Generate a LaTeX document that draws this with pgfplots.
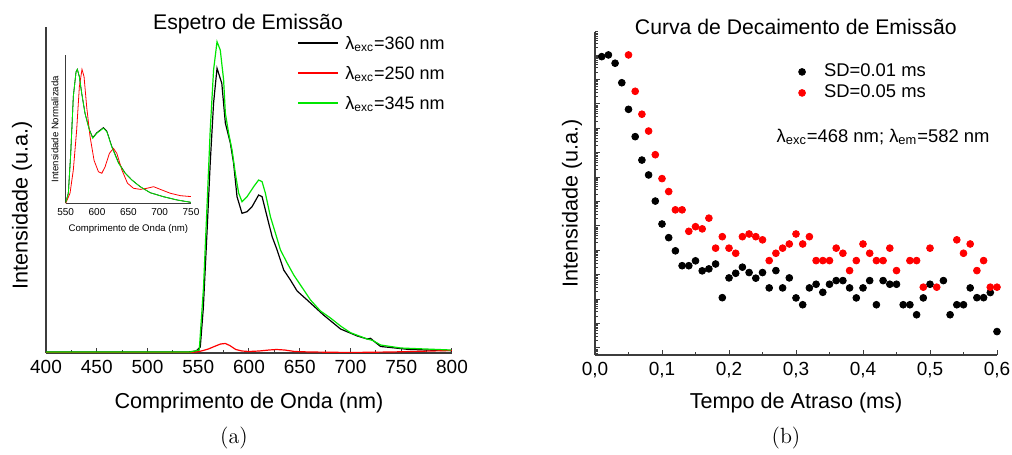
\documentclass[border=0pt]{standalone}
\usepackage{fontspec}
\usepackage{pgfplots}
\pgfplotsset{compat=1.18}
\newfontfamily\arial{Liberation Sans}
\definecolor{lgreen}{RGB}{0,230,0}
\definecolor{axgray}{RGB}{60,60,60}

% log-like minor ticks for the decay axis
\def\minorlist{-1}
\foreach \n in {-1,...,12}{\foreach \k in {0.301,0.477,0.602,0.699,0.778,0.845,0.903,0.954}{\pgfmathsetmacro\v{\n+\k}\xdef\minorlist{\minorlist,\v}}}

\pgfplotsset{
  base/.style={
    scale only axis, anchor=south west,
    axis x line*=bottom, axis y line*=left,
    axis line style={-, line width=0.6pt, axgray},
    tick align=inside, tick style={line width=0.5pt, axgray},
    major tick length=2.5pt, minor tick length=1.5pt,
    /pgf/number format/assume math mode=true,
    ticklabel style={font=\arial\fontsize{9.5}{11}\selectfont},
    label style={font=\arial\fontsize{10.8}{12}\selectfont},
  },
}

\begin{document}
\begin{tikzpicture}
\useasboundingbox (0,0) rectangle (506pt,227.5pt);

% ---------------- (a) emission spectra
\begin{axis}[base, at={(23pt,51pt)}, width=203pt, height=163pt,
  xmin=400, xmax=800, ymin=0, ymax=326,
  xtick={400,450,...,800}, minor xtick={425,475,...,775}, ytick=\empty,
  xlabel={Comprimento de Onda (nm)}, ylabel={Intensidade (u.a.)},
  xlabel style={at={(axis description cs:0.5,-0.153)}, anchor=center},
  ylabel style={at={(axis description cs:-0.059,0.454)}, anchor=center},
  every axis plot/.append style={line width=0.6pt},
]
\addplot[black] coordinates {
(400,1)(540,1)(548,2)(552,6)(555,45)(558.6,120)(561.8,190)(565.1,250)(568.5,284.7)
(573.2,269.7)(576.7,230)(581.6,210)(584.8,190)(588.2,156.3)(593.1,139.7)(598.1,141.3)
(603,146.3)(609.5,158)(612.9,156.3)(617.8,136.3)(622.8,116.3)(627.7,103)(634.2,83)
(640.8,73)(647.4,62)(657.3,53)(673.4,38)(690.2,24)(706.7,17)(716.5,14)(719.8,14.7)
(722.8,12)(729.7,6.5)(739.5,5.5)(756,3.7)(780,2.8)(800,2.3)};
\addplot[red] coordinates {
(400,0.5)(540,0.5)(548,1)(553,2)(560,4)(567,7)(572,9)(576.7,9.5)(581,7.5)(587,3.5)
(593,2)(600,1.5)(610,2)(620,3)(627,3.5)(635,3)(645,1.5)(660,1)(700,0.5)(740,1)
(760,1.5)(780,2)(800,2.5)};
\addplot[lgreen] coordinates {
(400,1)(542,1)(551,3)(555.2,66)(558.6,146)(561.8,223)(565.1,283)(568.5,311.3)
(571.7,303)(575,273)(576.7,240)(579.9,220)(583.3,203)(586.5,180)(589.8,160)
(593.1,151.3)(598.1,156.3)(604.6,166.3)(609.5,173)(612.9,171.3)(616.1,160)
(621.1,136.3)(626,120)(631,103)(637.6,90)(644.1,78)(650.7,68)(660.6,53)(670.4,42)
(680.3,35)(690.2,27)(700,20.3)(716.5,14)(722,12.5)(729.7,8)(749.4,5)(798.8,3)};
% legend keys
\draw[black, line width=0.6pt] (axis description cs:0.6207,0.9509) -- (axis description cs:0.7192,0.9509);
\draw[red, line width=0.6pt] (axis description cs:0.6207,0.8589) -- (axis description cs:0.7192,0.8589);
\draw[lgreen, line width=0.6pt] (axis description cs:0.6207,0.7669) -- (axis description cs:0.7192,0.7669);
\begin{scope}[every node/.style={anchor=base west, inner sep=0pt, font=\arial\fontsize{9}{10}\selectfont}]
\node at (axis description cs:0.7365,0.931) {λ\textsubscript{exc}=360 nm};
\node at (axis description cs:0.7365,0.839) {λ\textsubscript{exc}=250 nm};
\node at (axis description cs:0.7365,0.747) {λ\textsubscript{exc}=345 nm};
\end{scope}
\end{axis}

% inset
\begin{axis}[base, at={(32.85pt,125.85pt)}, width=62.65pt, height=74.15pt,
  xmin=550, xmax=750, ymin=0, ymax=1.107,
  axis line style={-, line width=0.4pt, axgray},
  xtick={550,600,...,750}, ytick=\empty, major tick length=0pt, minor tick length=0pt,
  ticklabel style={font=\arial\fontsize{5}{6}\selectfont},
  xticklabel style={yshift=1pt},
  label style={font=\arial\fontsize{4.8}{5.5}\selectfont},
  xlabel={Comprimento de Onda (nm)}, ylabel={Intensidade Normalizada},
  xlabel style={at={(axis description cs:0.5,-0.175)}, anchor=center},
  ylabel style={at={(axis description cs:-0.085,0.5)}, anchor=center},
  every axis plot/.append style={line width=0.4pt},
]
\addplot[black] coordinates {
(550,0.005)(554.2,0.075)(558,0.37)(562.2,0.8)(566.5,0.98)(568.6,1.0)(571.8,0.945)
(575.6,0.82)(580.9,0.67)(587.8,0.55)(593.2,0.49)(599.6,0.527)(610.2,0.565)
(615.6,0.54)(623.6,0.425)(634.2,0.305)(644.9,0.226)(655.6,0.174)(668.9,0.124)
(684.9,0.079)(706.2,0.049)(727.6,0.025)(750,0.007)};
\addplot[red] coordinates {
(550,0)(556.9,0.075)(562.2,0.25)(567.5,0.547)(571.8,0.87)(576,1.0)(579.3,0.945)
(583.5,0.72)(588.8,0.5)(595.3,0.32)(602.2,0.236)(607.6,0.224)(612.9,0.273)
(619.8,0.373)(626.2,0.41)(631.6,0.373)(639.6,0.25)(648.6,0.15)(658.2,0.112)
(668.9,0.104)(679.6,0.112)(690.2,0.124)(701,0.104)(716.9,0.075)(733,0.057)(750,0.05)};
\addplot[lgreen] coordinates {
(550,0.005)(554.2,0.075)(558,0.37)(562.2,0.8)(566.5,0.98)(568.6,1.0)(571.8,0.945)
(575.6,0.82)(580.9,0.67)(587.8,0.547)(593.2,0.485)(599.6,0.522)(610.2,0.56)
(615.6,0.534)(623.6,0.42)(634.2,0.3)(644.9,0.224)(655.6,0.174)(668.9,0.124)
(684.9,0.079)(706.2,0.049)(727.6,0.025)(750,0.007)};
\end{axis}

% ---------------- (b) decay curve
\begin{axis}[base, at={(297.5pt,50pt)}, width=201pt, height=161.5pt,
  xmin=0, xmax=0.6, ymin=-0.29, ymax=12.95,
  xtick={0,0.1,...,0.6}, minor xtick={0.05,0.15,...,0.55},
  ytick={0,...,12}, yticklabels={}, minor ytick/.expanded={\minorlist},
  xticklabel style={/pgf/number format/.cd, fixed, fixed zerofill, precision=1, use comma},
  xlabel={Tempo de Atraso (ms)}, ylabel={Intensidade (u.a.)},
  xlabel style={at={(axis description cs:0.5,-0.149)}, anchor=center},
  ylabel style={at={(axis description cs:-0.057,0.47)}, anchor=center},
  legend style={at={(axis cs:0.3034,11.74)}, anchor=north west, draw=none, fill=none,
    font=\arial\fontsize{9.2}{10}\selectfont, row sep=0.5pt, inner sep=0pt,
    nodes={inner sep=1pt, text height=6.5pt, text depth=1.5pt}},
  legend cell align=left,
  legend image code/.code={\draw[#1] plot coordinates {(0pt,0pt)}; \path (9.8pt,0pt);},
]
\addplot[only marks, mark=*, mark size=1.7pt, black] coordinates {
(0.01,11.94)(0.02,12.01)(0.03,11.67)(0.04,10.87)(0.05,9.78)(0.06,8.66)(0.07,7.70)
(0.08,7.09)(0.09,6.02)(0.10,5.08)(0.11,4.52)(0.12,3.98)(0.13,3.37)(0.14,3.37)
(0.15,3.57)(0.16,3.16)(0.17,3.24)(0.18,3.44)(0.19,2.06)(0.20,2.87)(0.21,3.06)
(0.22,3.31)(0.23,3.09)(0.24,2.86)(0.25,3.09)(0.26,2.46)(0.27,3.17)(0.28,2.46)
(0.29,2.87)(0.30,2.05)(0.31,1.77)(0.32,2.46)(0.33,2.61)(0.34,2.28)(0.35,2.61)
(0.36,2.76)(0.37,2.76)(0.38,2.46)(0.39,2.05)(0.40,2.46)(0.41,2.76)(0.42,1.77)
(0.43,2.76)(0.44,2.61)(0.45,2.61)(0.46,1.77)(0.47,1.77)(0.48,1.36)(0.49,2.05)
(0.50,2.61)(0.52,2.76)(0.53,1.36)(0.54,1.77)(0.55,1.77)(0.56,2.46)(0.57,2.06)
(0.58,2.06)(0.59,2.27)(0.60,0.67)};
\addlegendentry{SD=0.01 ms}
\addplot[only marks, mark=*, mark size=1.7pt, red] coordinates {
(0.05,12.01)(0.06,10.52)(0.07,9.58)(0.08,8.89)(0.09,7.92)(0.10,6.94)(0.11,6.41)
(0.12,5.66)(0.13,5.66)(0.14,4.78)(0.15,4.97)(0.16,4.88)(0.17,5.32)(0.18,4.09)
(0.19,4.56)(0.20,4.09)(0.21,3.88)(0.22,4.56)(0.23,4.67)(0.24,4.56)(0.25,4.43)
(0.26,3.58)(0.27,3.88)(0.28,4.09)(0.29,4.26)(0.30,4.67)(0.31,4.26)(0.32,4.56)
(0.33,3.58)(0.34,3.58)(0.35,3.58)(0.36,4.09)(0.37,3.88)(0.38,3.17)(0.39,3.58)
(0.40,4.26)(0.41,3.88)(0.42,3.58)(0.43,3.58)(0.44,4.09)(0.45,3.17)(0.47,3.58)
(0.48,3.58)(0.49,2.49)(0.50,4.09)(0.51,2.49)(0.54,4.43)(0.55,3.88)(0.56,4.26)
(0.57,3.17)(0.58,3.58)(0.59,2.49)(0.60,2.49)};
\addlegendentry{SD=0.05 ms}
\node[font=\arial\fontsize{9.2}{10}\selectfont] at (axis cs:0.43,8.66)
  {λ\textsubscript{exc}=468 nm; λ\textsubscript{em}=582 nm};
\end{axis}

% titles and captions
\node[anchor=base, font=\arial\fontsize{10.6}{12}\selectfont] at (124pt,212.85pt) {Espetro de Emissão};
\node[anchor=base, font=\arial\fontsize{10.6}{12}\selectfont] at (397.9pt,210.35pt) {Curva de Decaimento de Emissão};
\node[font=\fontsize{11}{13}\selectfont] at (117pt,8.5pt) {(a)};
\node[font=\fontsize{11}{13}\selectfont] at (393pt,8.5pt) {(b)};
\end{tikzpicture}
\end{document}
